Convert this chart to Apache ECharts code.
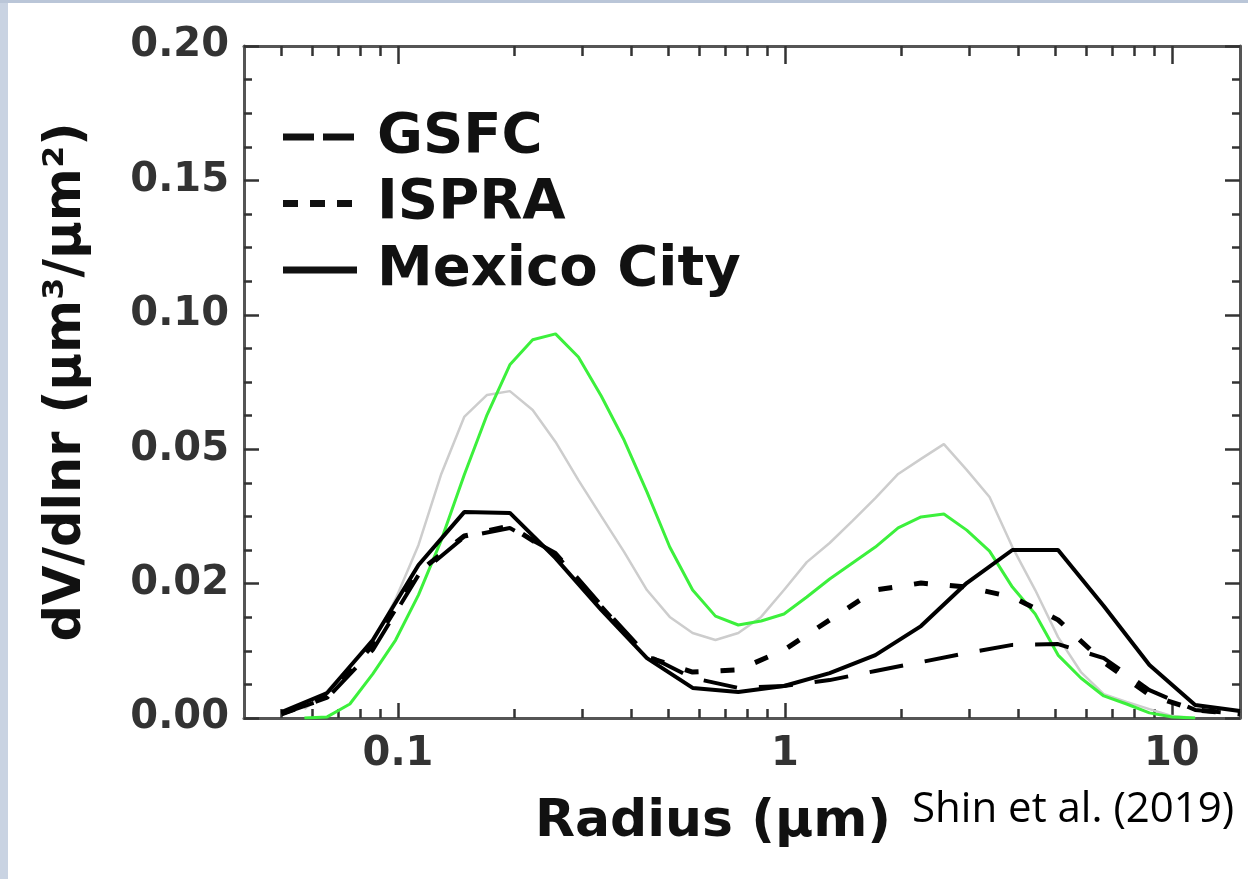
<!DOCTYPE html>
<html><head><meta charset="utf-8">
<script src="https://cdn.jsdelivr.net/npm/echarts@6/dist/echarts.min.js"></script>
<style>html,body{margin:0;padding:0;background:#fff}#c{width:1248px;height:879px}</style>
</head><body><div id="c"></div>
<script>
// AERONET-style radius bins (µm)
const radiusBins = [0.05, 0.0656, 0.0861, 0.1130, 0.1483, 0.1946, 0.2554, 0.3352, 0.4399, 0.5774, 0.7577, 0.9944, 1.3050, 1.7127, 2.2477, 2.9498, 3.8712, 5.0805, 6.6676, 8.7504, 11.484, 15.0];
const gsfc       = [0.0015, 0.0074, 0.0253, 0.0532, 0.0673, 0.0707, 0.0614, 0.0420, 0.0234, 0.0149, 0.0112, 0.0119, 0.0141, 0.0175, 0.0208, 0.0242, 0.0272, 0.0275, 0.0223, 0.0104, 0.0030, 0.0015];
const ispra      = [0.0015, 0.0078, 0.0272, 0.0543, 0.0677, 0.0714, 0.0607, 0.0413, 0.0227, 0.0171, 0.0179, 0.0253, 0.0365, 0.0476, 0.0502, 0.0487, 0.0450, 0.0365, 0.0208, 0.0086, 0.0030, 0.0015];
const mexicoCity = [0.0022, 0.0093, 0.0290, 0.0569, 0.0766, 0.0763, 0.0595, 0.0402, 0.0223, 0.0112, 0.0097, 0.0119, 0.0167, 0.0234, 0.0342, 0.0502, 0.0625, 0.0625, 0.0417, 0.0197, 0.0048, 0.0026];

// finer radius grid for the two unlabeled (green / gray) curves
const radiusFine = [0.0573, 0.0656, 0.0751, 0.0861, 0.0986, 0.1130, 0.1294, 0.1483, 0.1699, 0.1946, 0.2229, 0.2554, 0.2926, 0.3352, 0.3840, 0.4399, 0.5039, 0.5774, 0.6614, 0.7577, 0.8680, 0.9944, 1.1391, 1.3050, 1.4950, 1.7127, 1.9620, 2.2477, 2.5749, 2.9498, 3.3792, 3.8712, 4.4349, 5.0805, 5.8202, 6.6676, 7.6384, 8.7504, 10.024, 11.484];
const greenCurve = [0, 0.0004, 0.0052, 0.0164, 0.0290, 0.0458, 0.0662, 0.0904, 0.1128, 0.1314, 0.1407, 0.1429, 0.1343, 0.1198, 0.1034, 0.0841, 0.0636, 0.0476, 0.0379, 0.0346, 0.0361, 0.0387, 0.0450, 0.0517, 0.0577, 0.0636, 0.0707, 0.0748, 0.0759, 0.0699, 0.0621, 0.0487, 0.0387, 0.0234, 0.0149, 0.0082, 0.0052, 0.0019, 0.0004, 0];
const grayCurve  = [0.0033, 0.0100, 0.0193, 0.0279, 0.0443, 0.0644, 0.0908, 0.1120, 0.1202, 0.1216, 0.1146, 0.1027, 0.0885, 0.0751, 0.0618, 0.0476, 0.0376, 0.0316, 0.0290, 0.0316, 0.0376, 0.0476, 0.0580, 0.0651, 0.0733, 0.0818, 0.0908, 0.0964, 0.1019, 0.0923, 0.0822, 0.0636, 0.0476, 0.0301, 0.0171, 0.0089, 0.0060, 0.0033, 0.0007, 0];

const xMajorTicks = [0.1, 1, 10];
const xMinorTicks = [0.05, 0.06, 0.07, 0.08, 0.09, 0.2, 0.3, 0.4, 0.5, 0.6, 0.7, 0.8, 0.9, 2, 3, 4, 5, 6, 7, 8, 9];
const yTickLabels = ['0.00', '0.02', '0.05', '0.10', '0.15', '0.20'];
const legendNames = ['GSFC', 'ISPRA', 'Mexico City'];

const X_MIN = 0.04, X_MAX = 15, Y_MAX = 0.25, Y_STEP = 0.05;
const AXIS_COLOR = '#555';
const BOLD = 'DejaVu Sans';

function xAxisDef(pos, ticks, len, showLine, showLabels) {
  return {
    type: 'log', logBase: 10, min: X_MIN, max: X_MAX, position: pos,
    axisLine: { show: showLine, onZero: false, lineStyle: { color: AXIS_COLOR, width: 3 } },
    axisTick: { show: true, inside: true, length: len, customValues: ticks, lineStyle: { color: '#333', width: 2.5 } },
    axisLabel: showLabels ? {
      show: true, customValues: xMajorTicks, margin: 17,
      fontFamily: BOLD, fontWeight: 'bold', fontSize: 40, color: '#333',
      formatter: v => String(v)
    } : { show: false },
    splitLine: { show: false }, minorTick: { show: false }
  };
}
function yAxisDef(pos, showLabels) {
  return {
    type: 'value', min: 0, max: Y_MAX, interval: Y_STEP, position: pos,
    axisLine: { show: true, onZero: false, lineStyle: { color: AXIS_COLOR, width: 3 } },
    axisTick: { show: true, inside: true, length: 15, lineStyle: { color: '#333', width: 2.5 } },
    minorTick: { show: true, splitNumber: 4, length: 8, lineStyle: { color: '#333', width: 2.5 } },
    splitLine: { show: false },
    axisLabel: showLabels ? {
      show: true, margin: 15, fontFamily: BOLD, fontWeight: 'bold', fontSize: 40, color: '#333',
      formatter: v => yTickLabels[Math.round(v / Y_STEP)]
    } : { show: false }
  };
}

const chart = echarts.init(document.getElementById('c'), null, { renderer: 'canvas' });
const pairs = (xs, ys) => xs.map((x, i) => [x, ys[i]]);

// legend drawn as graphic (line sample + label), one row per named series
const legendDash = [[31, 9], [15, 12], null];
const legendGraphics = [];
legendNames.forEach((name, i) => {
  const cy = 137 + i * 66.5;
  legendGraphics.push({
    type: 'line', silent: true,
    shape: { x1: 283, y1: cy, x2: 357, y2: cy },
    style: { stroke: '#111', lineWidth: 7, lineDash: legendDash[i], lineCap: 'butt' }
  });
  legendGraphics.push({
    type: 'text', silent: true, x: 377, y: cy,
    style: { text: name, font: 'bold 56px "DejaVu Sans"', fill: '#111', verticalAlign: 'middle', align: 'left' }
  });
});

const option = {
  animation: false,
  backgroundColor: '#ffffff',
  grid: { left: 244, right: 8, top: 46, bottom: 161, containLabel: false },
  xAxis: [
    Object.assign(xAxisDef('bottom', xMajorTicks, 15, true, true), {
      name: 'Radius (μm)', nameLocation: 'middle', nameGap: 78,
      nameTextStyle: { fontFamily: BOLD, fontWeight: 'bold', fontSize: 52, color: '#111', padding: [0, 58, 0, 0] }
    }),
    xAxisDef('bottom', xMinorTicks, 9, false, false),
    xAxisDef('top', xMajorTicks, 18, true, false),
    xAxisDef('top', xMinorTicks, 10, false, false)
  ],
  yAxis: [
    Object.assign(yAxisDef('left', true), {
      name: 'dV/dlnr (μm³/μm²)', nameLocation: 'middle', nameGap: 152, nameRotate: 90,
      nameTextStyle: { fontFamily: BOLD, fontWeight: 'bold', fontSize: 51, color: '#111' }
    }),
    yAxisDef('right', false)
  ],
  graphic: [
    { type: 'rect', left: 0, top: 0, shape: { width: 8, height: 879 }, style: { fill: '#c9d3e2' }, silent: true },
    { type: 'rect', left: 0, top: 0, shape: { width: 1248, height: 3 }, style: { fill: '#bac6d8' }, silent: true },
    { type: 'text', left: 912, top: 789, style: { text: 'Shin et al. (2019)', font: '42px "Open Sans"', fill: '#000' } }
  ].concat(legendGraphics),
  series: [
    { name: 'gray', type: 'line', symbol: 'none', data: pairs(radiusFine, grayCurve), z: 2,
      lineStyle: { color: '#cdcdcd', width: 2.5 }, itemStyle: { color: '#cdcdcd' } },
    { name: 'green', type: 'line', symbol: 'none', data: pairs(radiusFine, greenCurve), z: 3,
      lineStyle: { color: '#3cf03c', width: 3 }, itemStyle: { color: '#3cf03c' } },
    { name: legendNames[0], type: 'line', symbol: 'none', data: pairs(radiusBins, gsfc), z: 4,
      lineStyle: { color: '#000', width: 4, type: [34, 22] }, itemStyle: { color: '#000' } },
    { name: legendNames[1], type: 'line', symbol: 'none', data: pairs(radiusBins, ispra), z: 4,
      lineStyle: { color: '#000', width: 5, type: [14, 22] }, itemStyle: { color: '#000' } },
    { name: legendNames[2], type: 'line', symbol: 'none', data: pairs(radiusBins, mexicoCity), z: 5,
      lineStyle: { color: '#000', width: 4 }, itemStyle: { color: '#000' } }
  ]
};
chart.setOption(option);
</script>
</body></html>
